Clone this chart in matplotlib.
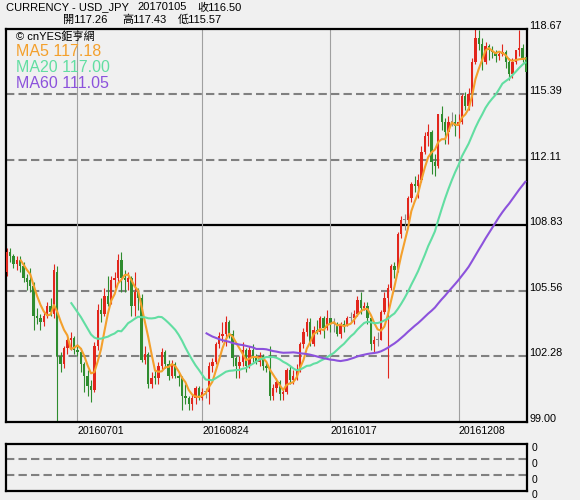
import matplotlib
matplotlib.use('Agg')
import matplotlib.pyplot as plt
import matplotlib.transforms as mtransforms
import numpy as np

plt.rcParams['font.family'] = ['Liberation Sans', 'Noto Sans CJK TC', 'DejaVu Sans']

# 日K資料 (USD/JPY, 2016/06 ~ 2017/01/05)
opens = [
    106.5, 107.5, 107.3, 106.9, 107.1, 106.8, 106.2, 106.1, 105.8, 104.3,
    104.2, 104.0, 104.3, 104.8, 104.4, 106.5, 102.3, 101.9, 102.7, 103.1,
    103.2, 102.6, 102.5, 101.9, 101.3, 100.8, 100.6, 102.8, 104.6, 104.4,
    105.3, 104.9, 106.1, 106.2, 107.1, 106.2, 106.0, 106.2, 104.8, 105.5,
    105.2, 102.1, 102.4, 100.9, 101.3, 101.2, 101.8, 102.5, 101.9, 101.3,
    101.9, 101.3, 101.2, 100.3, 100.2, 99.9, 100.2, 100.7, 100.2, 100.5,
    100.5, 101.8, 102.0, 102.9, 103.3, 103.4, 104.0, 103.4, 102.2, 101.8,
    102.0, 102.6, 101.8, 102.6, 102.2, 102.0, 102.3, 101.8, 101.7, 100.3,
    100.7, 101.0, 100.4, 100.5, 101.6, 101.1, 101.3, 101.6, 102.9, 103.5,
    104.0, 102.9, 103.6, 103.5, 104.2, 103.7, 104.2, 103.9, 103.9, 103.4,
    103.9, 103.8, 104.2, 104.2, 104.4, 105.1, 104.7, 104.8, 104.2, 102.9,
    103.1, 103.1, 104.5, 105.2, 105.7, 106.8, 106.6, 108.4, 109.1, 109.1,
    110.2, 110.9, 110.8, 111.1, 112.5, 113.3, 113.5, 112.0, 111.8, 114.4,
    114.0, 113.5, 114.0, 114.0, 113.8, 114.0, 115.3, 114.8, 115.4, 117.0,
    118.2, 117.9, 117.0, 117.8, 117.6, 117.5, 117.3, 117.4, 117.5, 117.0,
    116.4, 117.0, 117.6, 117.7, 117.26,
]
highs = [
    107.7, 107.7, 107.4, 107.3, 107.3, 107.0, 106.4, 106.7, 106.0, 104.7,
    104.4, 104.5, 105.0, 105.2, 106.9, 106.8, 102.5, 102.8, 103.2, 103.5,
    103.3, 102.9, 102.7, 102.0, 101.6, 101.1, 103.0, 104.9, 105.2, 105.7,
    106.3, 106.3, 106.5, 107.4, 107.5, 106.6, 106.5, 106.3, 106.5, 105.7,
    105.4, 102.8, 102.5, 101.5, 101.6, 102.0, 102.7, 102.6, 102.1, 102.1,
    102.0, 101.5, 101.3, 100.9, 100.3, 100.4, 100.8, 100.8, 100.7, 100.7,
    102.0, 102.2, 103.0, 103.5, 104.0, 104.3, 104.1, 103.6, 102.3, 102.3,
    103.0, 102.7, 102.8, 102.9, 102.4, 102.5, 102.4, 102.0, 102.8, 100.9,
    101.2, 101.1, 100.6, 101.7, 101.8, 101.6, 101.9, 103.0, 103.7, 104.2,
    104.2, 103.8, 104.1, 104.3, 104.3, 104.6, 104.2, 104.2, 104.0, 104.0,
    104.1, 104.3, 104.5, 104.6, 105.3, 105.5, 105.0, 105.0, 104.3, 103.3,
    103.5, 104.6, 105.5, 105.9, 106.9, 107.0, 108.5, 109.3, 109.4, 110.3,
    111.0, 111.3, 111.4, 112.8, 113.5, 113.9, 113.6, 112.4, 114.4, 114.8,
    114.2, 114.3, 114.5, 114.4, 114.4, 115.4, 115.5, 115.7, 117.2, 118.67,
    118.6, 118.2, 118.0, 117.9, 117.8, 117.6, 117.5, 117.9, 117.6, 117.2,
    117.2, 117.6, 118.6, 117.9, 117.43,
]
lows = [
    106.3, 107.0, 106.7, 106.6, 106.5, 106.0, 105.6, 105.5, 103.6, 103.9,
    103.6, 103.8, 104.2, 104.3, 104.2, 99.0, 101.5, 101.7, 102.4, 102.6,
    102.4, 102.3, 101.5, 100.5, 100.3, 100.0, 100.5, 102.6, 104.0, 104.3,
    104.8, 104.9, 105.7, 106.0, 105.5, 105.5, 105.6, 104.3, 104.3, 104.6,
    102.0, 101.9, 100.7, 100.7, 100.9, 100.9, 101.6, 101.7, 101.1, 101.2,
    101.2, 100.8, 99.6, 99.9, 99.6, 99.6, 99.9, 100.1, 100.1, 100.2,
    99.9, 101.5, 101.9, 102.7, 103.0, 102.8, 103.2, 101.8, 101.2, 101.2,
    101.8, 101.5, 101.7, 102.0, 101.9, 101.8, 101.6, 101.5, 100.1, 100.1,
    100.5, 100.1, 100.1, 100.4, 100.9, 100.9, 101.1, 101.5, 102.7, 103.3,
    102.8, 102.8, 103.4, 103.4, 103.2, 103.6, 103.5, 103.5, 103.3, 103.2,
    103.5, 103.8, 104.0, 103.9, 104.3, 104.4, 104.6, 103.9, 102.6, 102.5,
    102.8, 103.1, 104.4, 101.2, 105.6, 106.2, 106.5, 108.2, 108.6, 108.9,
    110.0, 110.5, 110.2, 111.0, 112.4, 112.8, 111.4, 111.3, 111.7, 113.6,
    112.9, 112.9, 113.8, 113.3, 113.2, 113.9, 114.6, 114.6, 114.8, 116.9,
    117.6, 116.6, 116.9, 117.1, 117.2, 117.0, 117.1, 117.3, 116.7, 116.1,
    116.2, 116.9, 117.3, 117.0, 115.57,
]
closes = [
    107.5, 107.3, 106.9, 107.1, 106.8, 106.2, 106.0, 105.8, 104.3, 104.2,
    104.0, 104.3, 104.8, 104.5, 106.6, 102.3, 101.9, 102.7, 103.1, 103.2,
    102.6, 102.5, 101.9, 101.3, 100.8, 100.6, 102.8, 104.6, 104.4, 105.3,
    104.9, 106.1, 106.2, 107.1, 106.2, 106.1, 106.2, 104.8, 105.5, 105.2,
    102.1, 102.4, 100.9, 101.2, 101.2, 101.8, 102.5, 101.9, 101.3, 101.9,
    101.3, 101.2, 100.3, 100.2, 99.9, 100.2, 100.7, 100.2, 100.5, 100.5,
    101.8, 102.0, 102.9, 103.3, 103.4, 104.0, 103.4, 102.2, 101.8, 102.0,
    102.6, 101.8, 102.6, 102.2, 102.0, 102.3, 101.8, 101.7, 100.3, 100.7,
    101.0, 100.4, 100.5, 101.6, 101.1, 101.3, 101.6, 102.9, 103.5, 104.0,
    102.9, 103.6, 103.5, 104.2, 103.7, 104.2, 103.9, 103.9, 103.4, 103.9,
    103.8, 104.2, 104.2, 104.4, 105.1, 104.7, 104.8, 104.2, 102.9, 103.1,
    103.1, 104.5, 105.2, 105.7, 106.8, 106.6, 108.4, 109.1, 109.1, 110.2,
    110.9, 110.8, 111.1, 112.5, 113.3, 113.5, 112.0, 111.8, 114.4, 114.0,
    113.5, 114.0, 114.0, 113.8, 114.0, 115.3, 114.8, 115.4, 117.0, 118.2,
    117.9, 117.0, 117.8, 117.6, 117.5, 117.3, 117.4, 117.5, 117.0, 116.4,
    117.0, 117.6, 117.7, 117.1, 116.50,
]

price_levels = [99.00, 102.28, 105.56, 108.83, 112.11, 115.39, 118.67]
date_pos = [21, 58, 96, 134]
date_labels = ['20160701', '20160824', '20161017', '20161208']
ma_periods = [5, 20, 60]
ma_colors = ['#f4a02c', '#62dea2', '#8c52dc']
title_name = 'CURRENCY - USD_JPY'
last_date = '20170105'

BG = '#f0f0f0'
UP = '#e2261c'
DOWN = '#2f8c2f'
FLAT = '#8a8a8a'

o = np.array(opens)
h = np.array(highs)
l = np.array(lows)
c = np.array(closes)
n = len(c)
x = np.arange(n)


def moving_avg(v, k):
    out = np.full(len(v), np.nan)
    out[k - 1:] = np.convolve(v, np.ones(k) / k, mode='valid')
    return out


fig = plt.figure(figsize=(5.8, 5.0), dpi=100, facecolor=BG)
ax = fig.add_axes([6 / 580, 78.3 / 500, 521 / 580, 393 / 500])
ax.set_facecolor(BG)
ax.set_xlim(-0.2, n - 0.7)
ax.set_ylim(price_levels[0], price_levels[-1])
ax.set_xticks([])
ax.set_yticks([])
for s in ax.spines.values():
    s.set_color('black')
    s.set_linewidth(1.6)

# 水平參考線
for lv in price_levels[1:-1]:
    if lv == price_levels[3]:
        ax.axhline(lv, color='black', lw=1.6, zorder=1)
    else:
        ax.axhline(lv, color='#808080', lw=1.5, ls=(0, (4, 2)), zorder=1)
for p in date_pos:
    ax.axvline(p, color='#a0a0a0', lw=0.8, zorder=1)

# K線
cols = [UP if cc > oo else (DOWN if cc < oo else FLAT) for oo, cc in zip(o, c)]
ax.vlines(x, l, h, colors=cols, lw=0.8, zorder=2)
body_low = np.minimum(o, c)
body_h = np.maximum(np.abs(c - o), 0.04)
ax.bar(x, body_h, bottom=body_low, width=0.7, color=cols, linewidth=0, zorder=3)

# 均線
ma_last = []
for k, col in zip(ma_periods, ma_colors):
    m = moving_avg(c, k)
    ax.plot(x, m, color=col, lw=1.5, zorder=4, solid_capstyle='butt')
    ma_last.append(m[-1])

# 右側價格標籤
ytr = ax.get_yaxis_transform()
for lv in price_levels:
    ax.text(1.004, lv, f'{lv:.2f}', transform=ytr, ha='left', va='baseline',
            fontsize=7.8, color='black', clip_on=False)

# 日期標籤
xtr = ax.get_xaxis_transform()
for p, lab in zip(date_pos, date_labels):
    ax.text(p + 0.1, -0.023, lab, transform=xtr, ha='left', va='center',
            fontsize=7.6, color='black', clip_on=False)

# 圖例文字
fig.text(16 / 580, 1 - 37 / 500, '© cnYES鉅亨網', fontsize=8, va='center', color='black')
for i, (k, col) in enumerate(zip(ma_periods, ma_colors)):
    fig.text(16 / 580, 1 - (51 + 16 * i) / 500, f'MA{k} {ma_last[i]:.2f}',
             fontsize=11.5, va='center', color=col)

# 標題
fs = 8
fig.text(6 / 580, 1 - 7.5 / 500, title_name, fontsize=fs, va='center')
fig.text(137 / 580, 1 - 7.5 / 500, last_date, fontsize=fs, va='center')
fig.text(197 / 580, 1 - 7.5 / 500, f'收{c[-1]:.2f}', fontsize=fs, va='center')
fig.text(63 / 580, 1 - 20 / 500, f'開{o[-1]:.2f}', fontsize=fs, va='center')
fig.text(122 / 580, 1 - 20 / 500, f'高{h[-1]:.2f}', fontsize=fs, va='center')
fig.text(178 / 580, 1 - 20 / 500, f'低{l[-1]:.2f}', fontsize=fs, va='center')

# 下方副圖 (空白指標)
ax2 = fig.add_axes([6 / 580, 9 / 500, 521 / 580, 47.3 / 500])
ax2.set_facecolor(BG)
ax2.set_xlim(ax.get_xlim())
ax2.set_ylim(0, 3)
ax2.set_xticks([])
ax2.set_yticks([])
for s in ax2.spines.values():
    s.set_color('black')
    s.set_linewidth(1.6)
for lv in [1, 2]:
    ax2.axhline(lv, color='#808080', lw=1.5, ls=(0, (4, 2)))
ytr2 = mtransforms.offset_copy(ax2.get_yaxis_transform(), fig=fig, x=0, y=-4.5, units='dots')
for lv in [3, 2, 1, 0]:
    ax2.text(1.008, lv, '0', transform=ytr2, ha='left', va='center',
             fontsize=7.4, clip_on=False)

fig.savefig('out.png', dpi=100, facecolor=BG)
plt.close(fig)
